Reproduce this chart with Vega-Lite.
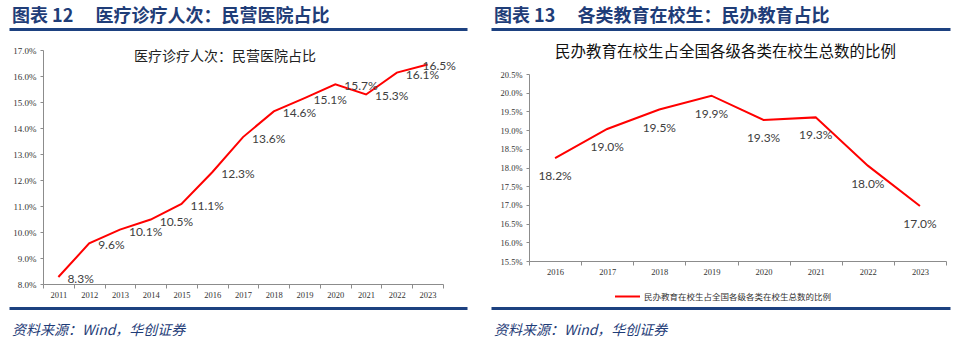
{
  "$schema": "https://vega.github.io/schema/vega-lite/v6.json",
  "background": "white",
  "padding": {"left": 9, "top": 8, "right": 0, "bottom": 0},
  "config": {
    "view": {"stroke": null},
    "font": "Noto Sans CJK SC",
    "axis": {"grid": false, "domainColor": "#8c8c8c", "tickColor": "#8c8c8c", "labelFont": "Liberation Serif", "labelColor": "#333333", "title": null}
  },
  "datasets": {
    "hospital": [
      {"year": "2011", "v": 8.27, "label": "8.3%"},
      {"year": "2012", "v": 9.56, "label": "9.6%"},
      {"year": "2013", "v": 10.09, "label": "10.1%"},
      {"year": "2014", "v": 10.48, "label": "10.5%"},
      {"year": "2015", "v": 11.08, "label": "11.1%"},
      {"year": "2016", "v": 12.3, "label": "12.3%"},
      {"year": "2017", "v": 13.65, "label": "13.6%"},
      {"year": "2018", "v": 14.64, "label": "14.6%"},
      {"year": "2019", "v": 15.15, "label": "15.1%"},
      {"year": "2020", "v": 15.68, "label": "15.7%"},
      {"year": "2021", "v": 15.29, "label": "15.3%"},
      {"year": "2022", "v": 16.13, "label": "16.1%"},
      {"year": "2023", "v": 16.44, "label": "16.5%"}
    ],
    "edu": [
      {"year": "2016", "v": 18.25, "label": "18.2%", "s": "民办教育在校生占全国各级各类在校生总数的比例"},
      {"year": "2017", "v": 19.03, "label": "19.0%", "s": "民办教育在校生占全国各级各类在校生总数的比例"},
      {"year": "2018", "v": 19.55, "label": "19.5%", "s": "民办教育在校生占全国各级各类在校生总数的比例"},
      {"year": "2019", "v": 19.92, "label": "19.9%", "s": "民办教育在校生占全国各级各类在校生总数的比例"},
      {"year": "2020", "v": 19.27, "label": "19.3%", "s": "民办教育在校生占全国各级各类在校生总数的比例"},
      {"year": "2021", "v": 19.34, "label": "19.3%", "s": "民办教育在校生占全国各级各类在校生总数的比例"},
      {"year": "2022", "v": 18.05, "label": "18.0%", "s": "民办教育在校生占全国各级各类在校生总数的比例"},
      {"year": "2023", "v": 16.97, "label": "17.0%", "s": "民办教育在校生占全国各级各类在校生总数的比例"}
    ],
    "bar": [{"k": 0.5}]
  },
  "resolve": {"legend": {"color": "independent"}},
  "hconcat": [
    {
      "concat": [
        {
          "width": 424, "height": 17,
          "data": {"name": "bar"},
          "mark": {"type": "point", "opacity": 0, "size": 1},
          "encoding": {"x": {"field": "k", "type": "quantitative", "scale": {"domain": [0, 1], "range": [-34, 424]}, "axis": {"orient": "top", "domainColor": "#1d4180", "domainWidth": 3, "ticks": false, "labels": false}}},
          "title": {"text": "图表   12　 医疗诊疗人次：民营医院占比", "anchor": "start", "dx": -31, "offset": 3, "fontSize": 18, "fontWeight": "bold", "color": "#1f3d78", "font": "Noto Sans CJK SC"}
        },
        {
          "width": 400, "height": 234,
          "data": {"name": "hospital"},
          "title": {"text": "医疗诊疗人次：民营医院占比", "frame": "group", "anchor": "middle", "dx": -18, "offset": -18, "fontSize": 14, "fontWeight": "normal", "color": "#222222", "font": "Noto Sans CJK SC"},
          "encoding": {
            "x": {"field": "year", "type": "ordinal", "bandPosition": 0.5, "scale": {"type": "band", "paddingInner": 0, "paddingOuter": 0},
              "axis": {"tickBand": "extent", "labelAngle": 0, "tickSize": 4, "labelPadding": 2, "labelFontSize": 8.5}},
            "y": {"field": "v", "type": "quantitative", "scale": {"domain": [8, 17]},
              "axis": {"values": [8, 9, 10, 11, 12, 13, 14, 15, 16, 17], "labelExpr": "format(datum.value, '.1f') + '%'", "tickSize": 3, "labelPadding": 4, "labelFontSize": 9, "minExtent": 34}}
          },
          "layer": [
            {"mark": {"type": "line", "color": "#ff0000", "strokeWidth": 2}},
            {"transform": [{"filter": "datum.year != '2023'"}],
             "mark": {"type": "text", "align": "left", "baseline": "middle", "dx": 9, "dy": 2, "font": "Lato", "fontSize": 12, "color": "#404040"},
             "encoding": {"text": {"field": "label"}}},
            {"transform": [{"filter": "datum.year == '2023'"}],
             "mark": {"type": "text", "align": "left", "baseline": "middle", "dx": -5, "dy": 1, "font": "Lato", "fontSize": 12, "color": "#404040"},
             "encoding": {"text": {"field": "label"}}}
          ]
        },
        {
          "width": 424, "height": 9,
          "data": {"name": "bar"},
          "mark": {"type": "point", "opacity": 0, "size": 1},
          "encoding": {"x": {"field": "k", "type": "quantitative", "scale": {"domain": [0, 1], "range": [-34, 424]}, "axis": {"orient": "bottom", "domainColor": "#1d4180", "domainWidth": 3, "ticks": false, "labels": false}}},
          "title": {"text": "资料来源：Wind，华创证券", "orient": "bottom", "anchor": "start", "dx": -31, "offset": 16, "fontSize": 14, "fontStyle": "italic", "fontWeight": "normal", "color": "#1f3d78", "font": "Noto Sans CJK SC"}
        }
      ],
      "columns": 1,
      "spacing": 0
    },
    {
      "concat": [
        {
          "width": 421, "height": 15.5,
          "data": {"name": "bar"},
          "mark": {"type": "point", "opacity": 0, "size": 1},
          "encoding": {"x": {"field": "k", "type": "quantitative", "scale": {"domain": [0, 1], "range": [-38, 421]}, "axis": {"orient": "top", "domainColor": "#1d4180", "domainWidth": 3, "ticks": false, "labels": false}}},
          "title": {"text": "图表   13　 各类教育在校生：民办教育占比", "anchor": "start", "dx": -35, "offset": 3, "fontSize": 18, "fontWeight": "bold", "color": "#1f3d78", "font": "Noto Sans CJK SC"}
        },
        {
          "width": 417, "height": 187,
          "data": {"name": "edu"},
          "title": {"text": "民办教育在校生占全国各级各类在校生总数的比例", "frame": "group", "anchor": "middle", "dx": -12, "offset": 9.5, "fontSize": 15.5, "fontWeight": "normal", "color": "#111111", "font": "Noto Sans CJK SC"},
          "encoding": {
            "x": {"field": "year", "type": "ordinal", "bandPosition": 0.5, "scale": {"type": "band", "paddingInner": 0, "paddingOuter": 0},
              "axis": {"tickBand": "extent", "labelAngle": 0, "tickSize": 4, "labelPadding": 2, "labelFontSize": 8.5}},
            "y": {"field": "v", "type": "quantitative", "scale": {"domain": [15.5, 20.5]},
              "axis": {"values": [15.5, 16, 16.5, 17, 17.5, 18, 18.5, 19, 19.5, 20, 20.5], "labelExpr": "format(datum.value, '.1f') + '%'", "tickSize": 3, "labelPadding": 4, "labelFontSize": 8.5, "minExtent": 38}}
          },
          "layer": [
            {"mark": {"type": "line", "strokeWidth": 2},
             "encoding": {"color": {"field": "s", "type": "nominal", "scale": {"range": ["#ff0000"]},
               "legend": {"orient": "none", "legendX": 85, "legendY": 209, "title": null, "symbolType": "stroke", "symbolSize": 625, "symbolStrokeWidth": 2, "labelFont": "Noto Sans CJK SC", "labelFontSize": 8.5, "labelColor": "#333333", "labelLimit": 0, "labelOffset": 3, "padding": 0}}}},
            {"mark": {"type": "text", "align": "center", "baseline": "middle", "dy": 18, "font": "Lato", "fontSize": 12, "color": "#404040"},
             "encoding": {"text": {"field": "label"}}}
          ]
        },
        {
          "width": 421, "height": 7,
          "data": {"name": "bar"},
          "mark": {"type": "point", "opacity": 0, "size": 1},
          "encoding": {"x": {"field": "k", "type": "quantitative", "scale": {"domain": [0, 1], "range": [-38, 421]}, "axis": {"orient": "bottom", "domainColor": "#1d4180", "domainWidth": 3, "ticks": false, "labels": false}}},
          "title": {"text": "资料来源：Wind，华创证券", "orient": "bottom", "anchor": "start", "dx": -35, "offset": 16, "fontSize": 14, "fontStyle": "italic", "fontWeight": "normal", "color": "#1f3d78", "font": "Noto Sans CJK SC"}
        }
      ],
      "columns": 1,
      "spacing": 0,
      "resolve": {"legend": {"color": "independent"}}
    }
  ],
  "spacing": -10
}
